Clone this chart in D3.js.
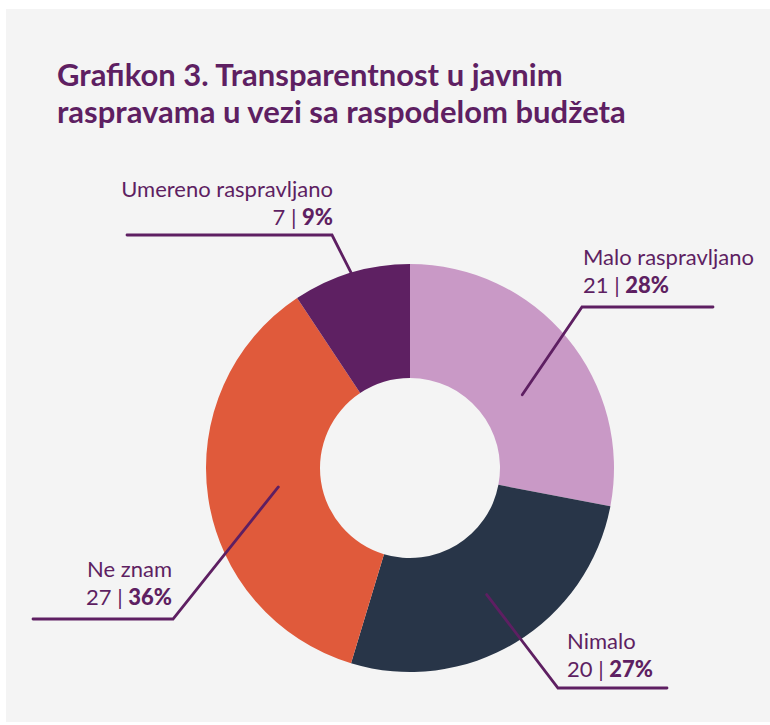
<!DOCTYPE html>
<html>
<head>
<meta charset="utf-8">
<script src="https://cdn.jsdelivr.net/npm/d3@7"></script>
<style>
  body { margin: 0; background: #fff; }
  svg { display: block; }
</style>
</head>
<body>
<div id="chart"></div>
<script>
// data
var categories = ["Malo raspravljano", "Nimalo", "Ne znam", "Umereno raspravljano"];
var counts = [21, 20, 27, 7];
var percents = [28, 27, 36, 9];
var colors = ["#c999c6", "#283548", "#e05a3b", "#5e2062"];

var width = 770, height = 725;
var purple = "#5e1f62";

const svg = d3.select("#chart")
    .append("svg")
    .attr("width", width)
    .attr("height", height);

// grey panel
svg.append("rect")
    .attr("x", 6).attr("y", 9)
    .attr("width", width - 6).attr("height", 713)
    .style("fill", "#f4f4f4");

// title
var title = svg.append("text")
    .attr("x", 57)
    .attr("y", 86)
    .style("font-family", "Lato")
    .style("font-weight", "bold")
    .style("font-size", "31px")
    .style("fill", purple);
title.append("tspan").attr("x", 57).text("Grafikon 3. Transparentnost u javnim");
title.append("tspan").attr("x", 57).attr("dy", 37).text("raspravama u vezi sa raspodelom budžeta");

var cx = 410, cy = 468;
var outerR = 204, innerR = 90;

var pie = d3.pie().sort(null).value(function(d) { return d; });
var arcs = pie(counts);
var arc = d3.arc().innerRadius(innerR).outerRadius(outerR);

var g = svg.append("g").attr("transform", "translate(" + cx + "," + cy + ")");

// label layout: where each leader line starts (angle nudge, radius), elbow, end of the shelf, text side
var labelLayout = [
  { nudge: 6.5,  r: 134, elbow: [582, 307], end: 713, anchor: "start", tx: 583, ty: 265 },
  { nudge: 0,    r: 148, elbow: [558, 688], end: 667, anchor: "start", tx: 567, ty: 649 },
  { nudge: 0.2,  r: 133, elbow: [173, 619], end: 33,  anchor: "end",   tx: 172, ty: 577 },
  { nudge: 0,    r: 204, elbow: [332, 235], end: 127, anchor: "end",   tx: 333, ty: 197 }
];

function leader(i) {
  var a = arcs[i];
  var L = labelLayout[i];
  var ang = (a.startAngle + a.endAngle) / 2 + L.nudge * Math.PI / 180;
  var px = cx + L.r * Math.sin(ang), py = cy - L.r * Math.cos(ang);
  return [[px, py], L.elbow, [L.end, L.elbow[1]]];
}

g.selectAll("path.slice")
    .data(arcs)
    .enter().append("path")
    .attr("class", "slice")
    .attr("d", arc)
    .style("fill", function(d, i) { return colors[i]; });

// leader lines
svg.append("g")
  .selectAll("path.leader")
  .data(arcs)
  .enter().append("path")
    .attr("class", "leader")
    .attr("d", function(d, i) { return d3.line()(leader(i)); })
    .style("fill", "none")
    .style("stroke", purple)
    .style("stroke-width", 2.8)
    .style("stroke-linecap", "round");

// labels
var labels = svg.append("g")
  .selectAll("g.label")
  .data(categories)
  .enter().append("g")
    .attr("class", "label");

labels.append("text")
    .attr("x", function(d, i) { return labelLayout[i].tx; })
    .attr("y", function(d, i) { return labelLayout[i].ty; })
    .attr("text-anchor", function(d, i) { return labelLayout[i].anchor; })
    .style("font-family", "Lato")
    .style("font-size", "22px")
    .style("fill", purple)
    .text(function(d) { return d; });

var second = labels.append("text")
    .attr("x", function(d, i) { return labelLayout[i].tx; })
    .attr("y", function(d, i) { return labelLayout[i].ty + 28; })
    .attr("text-anchor", function(d, i) { return labelLayout[i].anchor; })
    .style("font-family", "Lato")
    .style("font-size", "22px")
    .style("fill", purple);
second.append("tspan").text(function(d, i) { return counts[i] + " | "; });
second.append("tspan")
    .style("font-weight", "900")
    .text(function(d, i) { return percents[i] + "%"; });
</script>
</body>
</html>
